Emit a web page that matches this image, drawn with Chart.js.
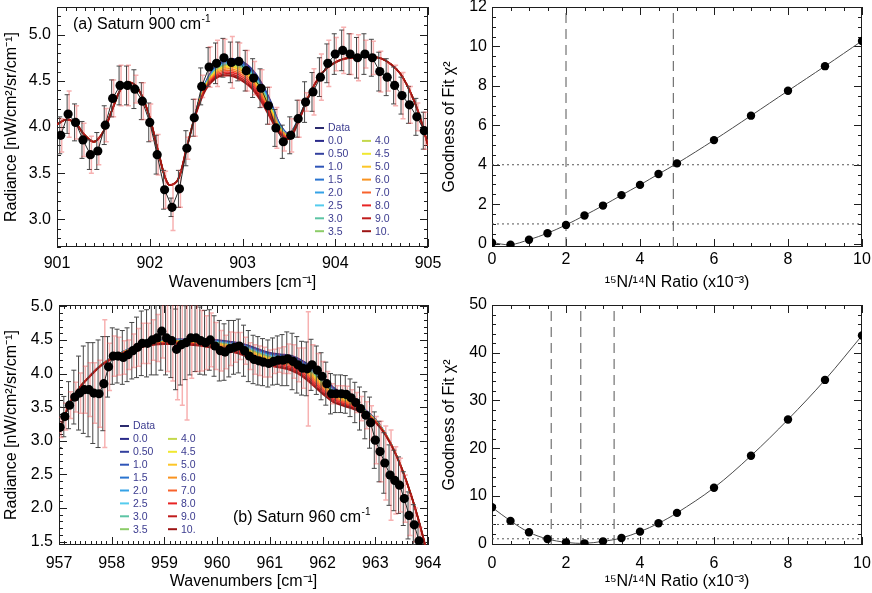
<!DOCTYPE html>
<html>
<head>
<meta charset="utf-8">
<script src="https://cdn.jsdelivr.net/npm/chart.js@4.4.1/dist/chart.umd.min.js"></script>
<style>
  html, body { margin: 0; padding: 0; background: #fff; overflow: hidden; }
  #wrap { position: relative; width: 872px; height: 593px; overflow: hidden; }
  #wrap canvas { position: absolute; left: -20px; top: -20px; }
</style>
</head>
<body>
<div id="wrap"></div>
<script>
// ---- (a) Saturn 900 cm-1 : measured radiance ----
const wnA = [901.04, 901.12, 901.20, 901.28, 901.36, 901.44, 901.52, 901.60, 901.68, 901.76,
  901.84, 901.92, 902.00, 902.08, 902.16, 902.24, 902.32, 902.40, 902.48, 902.56,
  902.64, 902.72, 902.80, 902.88, 902.96, 903.04, 903.12, 903.20, 903.28, 903.36,
  903.44, 903.52, 903.60, 903.68, 903.76, 903.84, 903.92, 904.00, 904.08, 904.16,
  904.24, 904.32, 904.40, 904.48, 904.56, 904.64, 904.72, 904.80, 904.88, 904.96];
const radA = [3.91, 4.14, 4.05, 3.86, 3.70, 3.74, 4.02, 4.31, 4.45, 4.45,
  4.41, 4.28, 4.05, 3.70, 3.32, 3.13, 3.33, 3.77, 4.10, 4.44,
  4.65, 4.69, 4.75, 4.70, 4.71, 4.61, 4.53, 4.42, 4.23, 3.99,
  3.84, 3.91, 4.09, 4.27, 4.38, 4.54, 4.69, 4.79, 4.83, 4.79,
  4.75, 4.79, 4.75, 4.60, 4.54, 4.45, 4.34, 4.24, 4.11, 3.96];
const errA = [0.20, 0.21, 0.20, 0.20, 0.16, 0.20, 0.21, 0.20, 0.21, 0.21,
  0.21, 0.20, 0.21, 0.21, 0.21, 0.10, 0.20, 0.19, 0.20, 0.20,
  0.21, 0.22, 0.21, 0.22, 0.21, 0.22, 0.21, 0.21, 0.20, 0.20,
  0.18, 0.20, 0.20, 0.22, 0.21, 0.21, 0.21, 0.22, 0.22, 0.22,
  0.22, 0.22, 0.20, 0.21, 0.20, 0.20, 0.20, 0.20, 0.20, 0.20];
const errRedA = [0.18, 0.25, 0.18, 0.18, 0.20, 0.15, 0.18, 0.20, 0.22, 0.22,
  0.15, 0.20, 0.20, 0.22, 0.20, 0.25, 0.20, 0.12, 0.20, 0.12,
  0.22, 0.25, 0.20, 0.28, 0.20, 0.22, 0.18, 0.20, 0.20, 0.22,
  0.10, 0.18, 0.20, 0.10, 0.25, 0.25, 0.25, 0.18, 0.25, 0.22,
  0.25, 0.15, 0.18, 0.22, 0.15, 0.22, 0.25, 0.20, 0.15, 0.20];

// model band edges (ratio 0.0 on top, ratio 10. at the bottom)
const fitWnA = [901.0, 901.1, 901.2, 901.3, 901.4, 901.5, 901.6, 901.7, 901.8, 901.9,
  902.0, 902.1, 902.2, 902.3, 902.4, 902.5, 902.6, 902.7, 902.8, 902.9,
  903.0, 903.1, 903.2, 903.3, 903.4, 903.5, 903.6, 903.7, 903.8, 903.9,
  904.0, 904.1, 904.2, 904.3, 904.4, 904.5, 904.6, 904.7, 904.8, 904.9, 905.0];
const fit10A = [4.03, 4.08, 4.04, 3.91, 3.84, 3.95, 4.20, 4.43, 4.48, 4.37,
  4.10, 3.70, 3.38, 3.42, 3.78, 4.15, 4.40, 4.52, 4.56, 4.55,
  4.50, 4.42, 4.28, 4.10, 3.93, 3.87, 4.05, 4.30, 4.50, 4.63,
  4.70, 4.74, 4.75, 4.76, 4.76, 4.74, 4.68, 4.58, 4.40, 4.15, 3.80];
const fit0A = [4.03, 4.08, 4.04, 3.91, 3.84, 3.95, 4.20, 4.43, 4.48, 4.37,
  4.10, 3.70, 3.38, 3.42, 3.78, 4.18, 4.48, 4.65, 4.72, 4.74,
  4.71, 4.63, 4.49, 4.29, 4.04, 3.93, 4.08, 4.31, 4.50, 4.63,
  4.70, 4.74, 4.75, 4.76, 4.76, 4.74, 4.68, 4.58, 4.40, 4.15, 3.80];

// ---- (b) Saturn 960 cm-1 ----
const wnB = [957.02, 957.11, 957.20, 957.30, 957.39, 957.48, 957.57, 957.66, 957.76, 957.85,
  957.94, 958.03, 958.12, 958.22, 958.31, 958.40, 958.49, 958.58, 958.68, 958.77,
  958.86, 958.95, 959.04, 959.14, 959.23, 959.32, 959.41, 959.50, 959.60, 959.69,
  959.78, 959.87, 959.96, 960.06, 960.15, 960.24, 960.33, 960.42, 960.52, 960.61,
  960.70, 960.79, 960.88, 960.98, 961.07, 961.16, 961.25, 961.34, 961.44, 961.53,
  961.62, 961.71, 961.80, 961.90, 961.99, 962.08, 962.17, 962.26, 962.36, 962.45,
  962.54, 962.63, 962.72, 962.82, 962.91, 963.00, 963.09, 963.18, 963.28, 963.37,
  963.46, 963.55, 963.64, 963.74, 963.83];
const radB = [3.20, 3.36, 3.53, 3.65, 3.71, 3.76, 3.76, 3.71, 3.70, 3.85,
  4.10, 4.26, 4.26, 4.24, 4.28, 4.34, 4.39, 4.45, 4.45, 4.50,
  4.53, 4.63, 4.53, 4.49, 4.36, 4.43, 4.46, 4.53, 4.53, 4.49,
  4.46, 4.50, 4.41, 4.34, 4.32, 4.37, 4.39, 4.41, 4.34, 4.26,
  4.21, 4.19, 4.17, 4.15, 4.18, 4.20, 4.20, 4.22, 4.18, 4.13,
  4.08, 4.07, 4.13, 4.05, 3.96, 3.85, 3.70, 3.70, 3.70, 3.69,
  3.64, 3.57, 3.48, 3.38, 3.27, 3.01, 2.84, 2.67, 2.49, 2.41,
  2.34, 2.14, 1.89, 1.75, 1.51];
const errB = [0.30, 0.30, 0.35, 0.40, 0.55, 0.65, 0.70, 0.75, 0.80, 0.70,
  0.45, 0.42, 0.40, 0.40, 0.40, 0.42, 0.45, 0.48, 0.50, 0.52,
  0.55, 0.58, 0.55, 0.55, 0.60, 0.60, 0.55, 0.55, 0.50, 0.50,
  0.48, 0.45, 0.45, 0.45, 0.42, 0.42, 0.40, 0.40, 0.38, 0.38,
  0.36, 0.36, 0.35, 0.35, 0.35, 0.36, 0.38, 0.40, 0.42, 0.42,
  0.40, 0.40, 0.38, 0.36, 0.35, 0.32, 0.30, 0.28, 0.28, 0.28,
  0.28, 0.30, 0.32, 0.35, 0.38, 0.42, 0.45, 0.45, 0.45, 0.45,
  0.42, 0.40, 0.35, 0.30, 0.25];
const errRedB = [0.15, 0.20, 0.20, 0.22, 0.30, 0.35, 0.40, 0.45, 0.50, 0.95,
  0.35, 0.30, 0.28, 0.25, 0.22, 0.25, 0.28, 0.30, 0.30, 0.30,
  0.35, 0.40, 0.50, 0.60, 0.75, 0.90, 1.15, 0.60, 0.50, 0.45,
  0.40, 0.40, 0.35, 0.30, 0.25, 0.25, 0.22, 0.20, 0.20, 0.20,
  0.22, 0.22, 0.22, 0.20, 0.18, 0.18, 0.20, 0.22, 0.25, 0.25,
  0.30, 0.85, 0.30, 0.25, 0.22, 0.18, 0.15, 0.12, 0.12, 0.12,
  0.12, 0.15, 0.18, 0.20, 0.25, 0.35, 0.45, 0.55, 0.67, 0.50,
  0.40, 0.35, 0.30, 0.25, 0.20];

const fitWnB = [957.0, 957.2, 957.4, 957.6, 957.8, 958.0, 958.2, 958.4, 958.6, 958.8,
  959.0, 959.2, 959.4, 959.6, 959.8, 960.0, 960.2, 960.4, 960.6, 960.8,
  961.0, 961.2, 961.4, 961.6, 961.8, 962.0, 962.2, 962.4, 962.6, 962.8,
  963.0, 963.2, 963.4, 963.6, 963.8, 964.0];
const fit10B = [3.12, 3.55, 3.80, 3.97, 4.12, 4.22, 4.30, 4.36, 4.40, 4.43,
  4.44, 4.44, 4.43, 4.42, 4.40, 4.37, 4.34, 4.30, 4.24, 4.17,
  4.12, 4.09, 4.05, 3.97, 3.84, 3.70, 3.58, 3.52, 3.47, 3.40,
  3.28, 3.08, 2.78, 2.38, 1.88, 1.28];
const fit0B = [3.12, 3.55, 3.80, 3.98, 4.13, 4.24, 4.32, 4.39, 4.44, 4.48,
  4.50, 4.51, 4.51, 4.51, 4.50, 4.50, 4.48, 4.46, 4.42, 4.36,
  4.31, 4.29, 4.27, 4.20, 4.10, 3.96, 3.80, 3.70, 3.60, 3.47,
  3.32, 3.10, 2.79, 2.38, 1.88, 1.28];

// ---- 15N/14N ratios of the model curves ----
const ratioValues = [0, 0.5, 1, 1.5, 2, 2.5, 3, 3.5, 4, 4.5, 5, 6, 7, 8, 9, 10];
const ratioLabels = ['0.0', '0.50', '1.0', '1.5', '2.0', '2.5', '3.0', '3.5',
  '4.0', '4.5', '5.0', '6.0', '7.0', '8.0', '9.0', '10.'];
const ratioColors = ['#2a2a8a', '#33409e', '#2f55b8', '#2a74d0', '#35a2e6', '#55ccee',
  '#5cc4a4', '#8ccc68', '#c4d84c', '#f0e830', '#fcc628', '#f99320', '#f8622c',
  '#e82424', '#c01c1c', '#9c1414'];

// ---- goodness of fit ----
const chiRatio = [0, 0.5, 1, 1.5, 2, 2.5, 3, 3.5, 4, 4.5, 5, 6, 7, 8, 9, 10];
const chiA = [0.05, -0.05, 0.20, 0.53, 0.95, 1.43, 1.93, 2.46, 2.98, 3.53, 4.07, 5.25, 6.49, 7.75, 9.00, 10.28];
const chiB = [7.6, 4.75, 2.36, 0.96, 0.26, 0.05, 0.47, 1.17, 2.5, 4.25, 6.43, 11.7, 18.4, 26.0, 34.3, 43.6];
const limitsA = [2.0, 4.9];
const limitsB = [1.6, 2.4, 3.3];
const chiLevels = [1, 4];


const W = 872, H = 593, M = 20;
const FONT = "'Liberation Sans', Arial, Helvetica, sans-serif";
Chart.defaults.font.family = FONT;
Chart.defaults.color = '#000';

function placement(area, yW, xH) {
  return {
    padding: {
      left: area.l + M - yW,
      top: area.t + M,
      right: W - area.r + M,
      bottom: H - area.b + M - xH
    }
  };
}

function axis(min, max, step, title, size, pad, fmt) {
  return {
    type: 'linear', min, max,
    afterFit: s => { if (s.isHorizontal()) s.height = size; else s.width = size; },
    grid: { display: false, drawTicks: false },
    border: { display: false },
    ticks: { stepSize: step, padding: pad, includeBounds: false, maxRotation: 0, autoSkip: false,
      font: { size: 16 }, color: '#000', callback: fmt },
    title: { display: true, text: title, font: { size: 16 }, padding: 0, color: '#000' }
  };
}

// box frame with inward major/minor ticks on all four sides
const boxTicks = {
  id: 'boxTicks',
  beforeDatasetsDraw(chart, args, opts) {
    const { ctx, chartArea: a, scales: { x, y } } = chart;
    ctx.save();
    ctx.strokeStyle = '#1e1e1e';
    ctx.lineWidth = 1;
    ctx.beginPath();
    const marks = (scale, step, len, horiz) => {
      const n0 = Math.ceil(scale.min / step - 1e-6), n1 = Math.floor(scale.max / step + 1e-6);
      for (let k = n0; k <= n1; k++) {
        const p = Math.round(scale.getPixelForValue(k * step)) + 0.5;
        if (horiz) {
          ctx.moveTo(p, a.bottom); ctx.lineTo(p, a.bottom - len);
          ctx.moveTo(p, a.top); ctx.lineTo(p, a.top + len);
        } else {
          ctx.moveTo(a.left, p); ctx.lineTo(a.left + len, p);
          ctx.moveTo(a.right, p); ctx.lineTo(a.right - len, p);
        }
      }
    };
    marks(x, opts.xMinor, 4, true); marks(x, opts.xMajor, 8, true);
    marks(y, opts.yMinor, 4, false); marks(y, opts.yMajor, 8, false);
    ctx.stroke();
    ctx.strokeRect(a.left + 0.5, a.top + 0.5, a.width - 1, a.height - 1);
    ctx.restore();
  }
};

// black and red error bars, drawn just under the data dots
const errorBars = {
  id: 'errorBars',
  beforeDatasetDraw(chart, args) {
    const ds = chart.data.datasets[args.index];
    if (!ds.errBlack) return;
    const { ctx, chartArea: a, scales: { x, y } } = chart;
    ctx.save();
    ctx.beginPath();
    ctx.rect(a.left, a.top, a.width, a.height);
    ctx.clip();
    const bars = (errs, color, width, dx) => {
      ctx.strokeStyle = color;
      ctx.lineWidth = width;
      ctx.beginPath();
      ds.data.forEach((p, i) => {
        const px = x.getPixelForValue(p.x) + dx;
        const top = y.getPixelForValue(p.y + errs[i]);
        const bot = y.getPixelForValue(p.y - errs[i]);
        ctx.moveTo(px, top); ctx.lineTo(px, bot);
        ctx.moveTo(px - 2.5, top); ctx.lineTo(px + 2.5, top);
        ctx.moveTo(px - 2.5, bot); ctx.lineTo(px + 2.5, bot);
      });
      ctx.stroke();
    };
    bars(ds.errBlack, '#454545', 1, -1);
    bars(ds.errRed, 'rgba(236,70,70,0.42)', 1.5, 1);
    ctx.restore();
  }
};

// two-column legend of the model ratios
const ratioLegend = {
  id: 'ratioLegend',
  afterDatasetsDraw(chart, args, opts) {
    if (opts.x0 === undefined) return;
    const ctx = chart.ctx;
    ctx.save();
    ctx.font = '10.5px ' + FONT;
    ctx.textBaseline = 'middle';
    const item = (col, row, color, text) => {
      const lx = opts.x0 + M + col * opts.dx, ly = opts.y0 + M + row * opts.dy;
      ctx.strokeStyle = color; ctx.lineWidth = 2;
      ctx.beginPath(); ctx.moveTo(lx, ly); ctx.lineTo(lx + 9, ly); ctx.stroke();
      ctx.fillStyle = '#3b3b8f';
      ctx.fillText(text, lx + 13, ly + 0.5);
    };
    item(0, 0, '#2b2b6e', 'Data');
    ratioLabels.forEach((lab, i) => {
      if (i < 8) item(0, i + 1, ratioColors[i], lab);
      else item(1, i - 7, ratioColors[i], lab);
    });
    ctx.restore();
  }
};

// panel caption with a raised exponent
const panelTag = {
  id: 'panelTag',
  afterDraw(chart, args, opts) {
    if (!opts.text) return;
    const ctx = chart.ctx;
    ctx.save();
    ctx.fillStyle = '#000';
    ctx.textBaseline = 'middle';
    ctx.font = '16px ' + FONT;
    ctx.fillText(opts.text, opts.x + M, opts.y + M);
    const w = ctx.measureText(opts.text).width;
    ctx.font = '10px ' + FONT;
    ctx.fillText(opts.sup, opts.x + M + w + 0.5, opts.y + M - 6);
    ctx.restore();
  }
};

function addCanvas() {
  const c = document.createElement('canvas');
  c.width = W + 2 * M;
  c.height = H + 2 * M;
  document.getElementById('wrap').appendChild(c);
  return c;
}

function spectrumChart(cfg) {
  const datasets = [{
    label: 'Data',
    data: cfg.wn.map((x, i) => ({ x, y: cfg.rad[i] })),
    errBlack: cfg.err, errRed: cfg.errRed,
    borderColor: '#262626', borderWidth: 1, tension: 0,
    pointRadius: 4.6, pointBackgroundColor: '#000', pointBorderWidth: 0, order: 0
  }];
  ratioValues.forEach((r, i) => {
    datasets.push({
      label: ratioLabels[i],
      data: cfg.fitWn.map((x, j) => ({ x, y: cfg.fit10[j] + (cfg.fit0[j] - cfg.fit10[j]) * (1 - r / 10) })),
      borderColor: ratioColors[i],
      borderWidth: i === ratioValues.length - 1 ? 2 : 1.4,
      pointRadius: 0, tension: 0.35, order: 100 - i
    });
  });
  const a = cfg.area;
  new Chart(addCanvas(), {
    type: 'line',
    data: { datasets },
    options: {
      responsive: false, animation: false, events: [],
      layout: placement(a, cfg.yW, cfg.xH),
      elements: { line: { capBezierPoints: false } },
      plugins: {
        legend: { display: false }, tooltip: { enabled: false },
        boxTicks: { xMajor: 1, xMinor: 0.1, yMajor: 0.5, yMinor: 0.1 },
        ratioLegend: cfg.legend,
        panelTag: cfg.tag
      },
      scales: {
        x: axis(cfg.xMin, cfg.xMax, 1, 'Wavenumbers [cm\u207B\u00B9]', cfg.xH, cfg.xPad, v => String(v)),
        y: axis(cfg.yMin, cfg.yMax, 0.5, 'Radiance [nW/cm\u00B2/sr/cm\u207B\u00B9]', cfg.yW, 6, v => v.toFixed(1))
      }
    },
    plugins: [boxTicks, errorBars, ratioLegend, panelTag]
  });
}

function chiChart(cfg) {
  const datasets = [{
    data: chiRatio.map((x, i) => ({ x, y: cfg.chi[i] })),
    borderColor: '#4a4a4a', borderWidth: 1, tension: 0.35,
    pointRadius: 4.2, pointBackgroundColor: '#000', pointBorderWidth: 0, order: 0
  }];
  cfg.limits.forEach(v => datasets.push({
    data: [{ x: v, y: cfg.yMin }, { x: v, y: cfg.yMax }],
    borderColor: '#555', borderWidth: 1, borderDash: [10, 6], pointRadius: 0, order: 5
  }));
  chiLevels.forEach(v => datasets.push({
    data: [{ x: 0, y: v }, { x: 10, y: v }],
    borderColor: '#555', borderWidth: 1, borderDash: [2, 3], pointRadius: 0, order: 5
  }));
  new Chart(addCanvas(), {
    type: 'line',
    data: { datasets },
    options: {
      responsive: false, animation: false, events: [],
      layout: placement(cfg.area, cfg.yW, cfg.xH),
      plugins: {
        legend: { display: false }, tooltip: { enabled: false },
        boxTicks: { xMajor: 2, xMinor: 0.5, yMajor: cfg.yStep, yMinor: cfg.yMinor }
      },
      scales: {
        x: axis(0, 10, 2, '\u00B9\u2075N/\u00B9\u2074N Ratio (x10\u207B\u00B3)', cfg.xH, cfg.xPad, v => String(v)),
        y: axis(cfg.yMin, cfg.yMax, cfg.yStep, 'Goodness of Fit \u03C7\u00B2', cfg.yW, 5, v => String(v))
      }
    },
    plugins: [boxTicks]
  });
}

spectrumChart({
  wn: wnA, rad: radA, err: errA, errRed: errRedA, fitWn: fitWnA, fit0: fit0A, fit10: fit10A,
  area: { l: 57, t: 7, r: 428, b: 247 }, yW: 55, xH: 45, xPad: 7,
  xMin: 901, xMax: 905, yMin: 2.7, yMax: 5.3,
  legend: { x0: 315, y0: 128, dy: 12.9, dx: 47 },
  tag: { text: '(a) Saturn 900 cm', sup: '-1', x: 73, y: 25 }
});

chiChart({
  chi: chiA, limits: limitsA, area: { l: 492, t: 7, r: 862, b: 247 }, yW: 52, xH: 45, xPad: 3,
  yMin: -0.17, yMax: 12, yStep: 2, yMinor: 0.5
});

spectrumChart({
  wn: wnB, rad: radB, err: errB, errRed: errRedB, fitWn: fitWnB, fit0: fit0B, fit10: fit10B,
  area: { l: 59, t: 305, r: 428, b: 545 }, yW: 57, xH: 46, xPad: 9,
  xMin: 957, xMax: 964, yMin: 1.45, yMax: 5.02,
  legend: { x0: 120, y0: 426, dy: 12.9, dx: 48 },
  tag: { text: '(b) Saturn 960 cm', sup: '-1', x: 233, y: 518 }
});

chiChart({
  chi: chiB, limits: limitsB, area: { l: 492, t: 305, r: 862, b: 545 }, yW: 52, xH: 46, xPad: 9,
  yMin: -0.3, yMax: 50, yStep: 10, yMinor: 2
});
</script>
</body>
</html>
